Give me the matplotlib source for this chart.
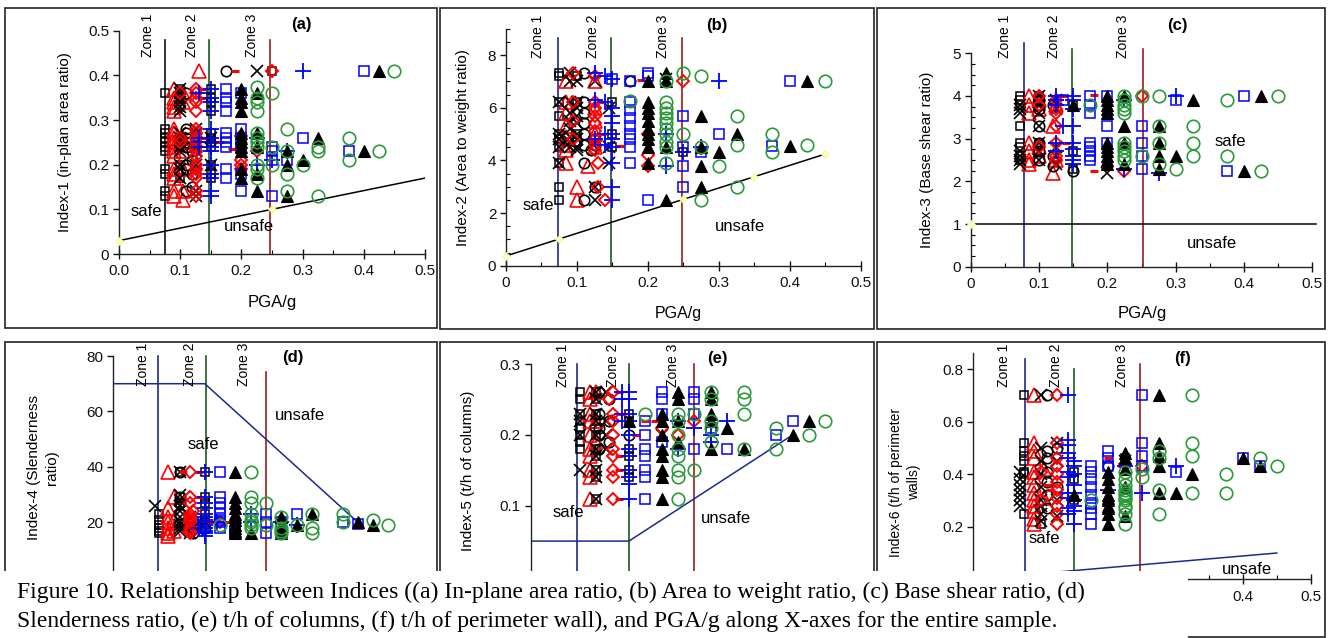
import matplotlib
matplotlib.use("Agg")
import matplotlib.pyplot as plt
from matplotlib.patches import Rectangle
from matplotlib.ticker import MultipleLocator

W, H = 1331, 638
plt.rcParams['font.family'] = ['Liberation Sans', 'DejaVu Sans']

# ================= DATA (PGA/g, [index values]) =================
# ---- (a) Index-1 in-plan area ratio ----
a_sqk = [(0.075, [0.36, 0.28, 0.27, 0.26, 0.25, 0.24, 0.23, 0.19, 0.18, 0.14, 0.13]),
         (0.10, [0.37, 0.35, 0.33, 0.26, 0.24, 0.20, 0.17]),
         (0.15, [0.37, 0.35, 0.34, 0.32, 0.27, 0.26, 0.25, 0.24, 0.20, 0.18, 0.17]),
         (0.25, [0.41])]
a_xk = [(0.10, [0.37, 0.36, 0.35, 0.34, 0.33, 0.32, 0.27, 0.26, 0.25, 0.24, 0.23, 0.20, 0.19, 0.17]),
        (0.125, [0.28, 0.27, 0.25, 0.24, 0.23, 0.20, 0.19, 0.14, 0.13]),
        (0.15, [0.26, 0.20]), (0.225, [0.41])]
a_ok = [(0.11, [0.36, 0.28, 0.27, 0.26, 0.25, 0.24, 0.20, 0.19, 0.14]),
        (0.12, [0.23, 0.21, 0.18, 0.15]), (0.175, [0.41])]
a_trr = [(0.09, [0.37, 0.35, 0.34, 0.33, 0.32, 0.28, 0.27, 0.26, 0.25, 0.24, 0.23, 0.22,
                 0.19, 0.18, 0.17, 0.14, 0.13]),
         (0.105, [0.36, 0.34, 0.26, 0.25, 0.23, 0.19, 0.14, 0.12]), (0.13, [0.41])]
a_dr = [(0.10, [0.36, 0.26, 0.25]),
        (0.125, [0.37, 0.36, 0.35, 0.34, 0.32, 0.28, 0.27, 0.26, 0.25, 0.24, 0.23, 0.22,
                 0.20, 0.19, 0.18, 0.17, 0.14, 0.13]),
        (0.20, [0.265, 0.21, 0.20, 0.19]), (0.225, [0.23]), (0.25, [0.41])]
a_dash = [(0.19, [0.41]), (0.135, [0.37, 0.35, 0.26]), (0.165, [0.25]), (0.185, [0.235])]
a_pb = [(0.13, [0.36, 0.26, 0.25, 0.24]),
        (0.15, [0.37, 0.35, 0.34, 0.32, 0.28, 0.26, 0.25, 0.24, 0.23, 0.20, 0.18, 0.17, 0.14, 0.13]),
        (0.225, [0.26, 0.20]), (0.25, [0.21]), (0.275, [0.23]), (0.30, [0.41])]
a_sqb = [(0.175, [0.37, 0.35, 0.34, 0.32, 0.27, 0.26, 0.25, 0.24, 0.19, 0.17]),
         (0.20, [0.36, 0.28, 0.26, 0.24, 0.18, 0.14]),
         (0.25, [0.24, 0.23, 0.21, 0.13]), (0.275, [0.21]), (0.30, [0.26]),
         (0.375, [0.23]), (0.40, [0.41])]
a_trk = [(0.20, [0.37, 0.35, 0.34, 0.32, 0.27, 0.26, 0.25, 0.24, 0.23, 0.19, 0.17]),
         (0.225, [0.36, 0.27, 0.24, 0.18, 0.14]),
         (0.275, [0.23, 0.20, 0.13]), (0.30, [0.21]), (0.325, [0.26]), (0.40, [0.23]), (0.425, [0.41])]
a_og = [(0.225, [0.375, 0.35, 0.34, 0.32, 0.27, 0.26, 0.25, 0.24, 0.20, 0.19, 0.17]),
        (0.25, [0.36, 0.24, 0.20]), (0.275, [0.28, 0.23, 0.18, 0.14]), (0.30, [0.20]),
        (0.325, [0.24, 0.23, 0.13]), (0.375, [0.26, 0.21]), (0.425, [0.23]), (0.45, [0.41])]
a_limit_x = [0.0, 0.25, 0.5]
a_limit_y = [0.03, 0.10, 0.17]
a_dots = [(0.0, [0.03]), (0.25, [0.10])]

# ---- (b) Index-2 area to weight ratio ----
b_sqk = [(0.075, [7.3, 7.2, 6.2, 5.7, 5.0, 4.8, 4.5, 3.9, 3.0, 2.5]),
         (0.10, [7.2, 6.2, 5.0, 4.7]), (0.15, [6.2, 5.0, 4.5]), (0.25, [4.3])]
b_xk = [(0.075, [6.2, 5.0, 4.8, 4.5, 3.9]),
        (0.09, [7.3, 7.0, 6.2, 5.8, 5.5, 5.2, 4.9, 4.7, 4.5]),
        (0.10, [7.0, 6.2, 6.0, 5.7, 5.4, 5.0, 4.8, 4.5, 4.4]),
        (0.125, [7.0, 4.7, 3.0, 2.5]), (0.145, [6.0, 4.5, 3.9]), (0.225, [7.1])]
b_ok = [(0.11, [7.3, 6.2, 5.8, 5.4, 5.0, 4.6, 3.9, 2.5]),
        (0.12, [4.4]), (0.125, [4.6, 3.0]), (0.175, [7.0])]
b_trr = [(0.085, [7.0, 6.2, 5.8, 5.3, 4.9, 4.6, 4.4, 3.9]),
         (0.10, [3.0, 2.5]), (0.115, [3.8]),
         (0.125, [7.0, 6.0, 5.5, 5.0, 4.5])]
b_dr = [(0.095, [7.3, 6.2, 5.5, 4.8]),
        (0.125, [7.2, 6.2, 6.0, 5.7, 5.4, 5.1, 4.8, 4.6, 4.4]),
        (0.13, [3.9, 3.0]), (0.14, [2.5]), (0.20, [5.0, 4.2, 3.8]), (0.25, [7.0])]
b_dash = [(0.19, [7.05]), (0.16, [4.55]), (0.135, [6.2, 5.0])]
b_pb = [(0.125, [7.3, 6.3, 4.8]), (0.14, [7.2, 6.2, 5.0, 4.6]),
        (0.15, [7.1, 6.0, 5.7, 5.4, 5.0, 4.8, 4.5, 3.9, 3.0, 2.5]),
        (0.225, [5.0, 3.8]), (0.25, [4.3]), (0.275, [4.5]), (0.30, [7.0])]
b_sqb = [(0.15, [7.1]), (0.175, [7.0, 6.2, 5.9, 5.6, 5.3, 5.0, 4.8, 4.5, 3.9]),
         (0.20, [7.3, 7.2, 2.5]), (0.25, [5.7, 4.5, 3.8, 3.0]), (0.275, [4.3]),
         (0.30, [5.0]), (0.375, [4.55]), (0.40, [7.0])]
b_trk = [(0.20, [7.0, 6.2, 6.0, 5.8, 5.5, 5.2, 5.0, 4.8, 4.5, 3.9]),
         (0.225, [7.3, 7.0, 4.5, 2.5]), (0.275, [5.7, 4.5, 3.8, 3.0]), (0.30, [4.3]),
         (0.325, [5.0]), (0.40, [4.55]), (0.425, [7.0])]
b_og = [(0.175, [6.25]), (0.225, [7.0, 6.2, 6.0, 5.8, 5.6, 5.4, 5.2, 5.0, 4.7, 4.5, 3.9]),
        (0.25, [7.3, 5.0]), (0.275, [7.2, 4.5, 2.5]), (0.30, [3.8]),
        (0.325, [5.7, 4.6, 3.0]), (0.375, [5.0, 4.3]), (0.425, [4.6]), (0.45, [7.0])]
b_limit_x = [0.0, 0.45]
b_limit_y = [0.37, 4.24]
b_dots = [(0.0, [0.37]), (0.075, [1.0]), (0.25, [2.52]), (0.35, [3.38]), (0.45, [4.24])]

# ---- (c) Index-3 base shear ratio ----
c_sqk = [(0.072, [4.0, 3.9, 3.8, 3.3, 2.9, 2.8, 2.6, 2.5]),
         (0.10, [4.0, 2.9]), (0.15, [3.8, 2.7, 2.3])]
c_xk = [(0.072, [3.8, 3.7, 3.6, 2.7, 2.6, 2.5, 2.4]),
        (0.10, [4.0, 3.8, 3.6, 3.3, 2.9, 2.7, 2.5]),
        (0.125, [3.9, 3.7, 2.8, 2.6, 2.4]), (0.20, [2.2])]
c_ok = [(0.10, [3.9, 3.7, 3.3, 2.9, 2.7, 2.5]), (0.12, [3.8, 2.6, 2.35]), (0.15, [2.25])]
c_trr = [(0.085, [4.0, 3.8, 3.6, 2.9, 2.7, 2.5, 2.4]), (0.10, [3.9, 3.7, 2.8, 2.6]),
         (0.12, [3.3, 2.2]), (0.125, [3.8, 2.5])]
c_dr = [(0.10, [4.0, 3.8, 2.8]), (0.125, [3.9, 3.7, 3.6, 3.3, 2.9, 2.6, 2.5]),
        (0.225, [2.25]), (0.25, [4.0])]
c_dash = [(0.135, [4.0]), (0.18, [4.02, 2.25]), (0.14, [2.9])]
c_pb = [(0.125, [4.0, 3.9, 3.8, 2.9, 2.7]), (0.135, [3.3]),
        (0.15, [4.0, 3.9, 3.7, 3.3, 2.9, 2.75, 2.6, 2.5, 2.4]),
        (0.225, [3.9, 2.3]), (0.275, [2.2]), (0.30, [4.0])]
c_sqb = [(0.135, [3.9]), (0.175, [4.0, 3.8, 3.6, 2.9, 2.8, 2.7, 2.6, 2.5]),
         (0.20, [4.0, 3.3, 2.9]), (0.25, [3.3, 2.9, 2.6, 2.3]), (0.30, [3.9]),
         (0.375, [2.25]), (0.40, [4.0])]
c_trk = [(0.15, [3.8]), (0.20, [4.0, 3.9, 3.8, 3.7, 3.6, 2.9, 2.8, 2.7, 2.6, 2.5, 2.4]),
         (0.225, [4.0, 3.3, 2.9, 2.4]), (0.275, [3.3, 2.9, 2.6, 2.3]), (0.30, [2.6]),
         (0.325, [3.9]), (0.40, [2.25]), (0.425, [4.0])]
c_og = [(0.175, [3.8]), (0.225, [4.0, 3.9, 3.8, 3.7, 3.6, 2.9, 2.8, 2.7, 2.6, 2.5]),
        (0.25, [4.0, 2.6]), (0.275, [4.0, 3.3, 2.9, 2.4]), (0.30, [2.3]),
        (0.325, [3.3, 2.9, 2.6]), (0.375, [3.9, 2.6]), (0.425, [2.25]), (0.45, [4.0])]
c_limit_x = [0.0, 0.505]
c_limit_y = [1.0, 1.0]
c_dots = [(0.0, [1.0])]

# ---- (d) Index-4 slenderness ratio ----
d_sqk = [(0.075, [23, 21, 19, 18, 17, 16]), (0.11, [38, 29, 27]),
         (0.15, [38, 29, 27, 23, 21, 20, 19])]
d_xk = [(0.068, [26]), (0.11, [38, 30, 28, 26, 24, 22, 20, 19, 18, 17]),
        (0.125, [22, 19, 16]), (0.14, [20, 17])]
d_ok = [(0.11, [38, 29, 27, 23]), (0.13, [21, 18, 16]), (0.15, [18])]
d_trr = [(0.09, [38, 25, 22, 20, 18, 16, 15]), (0.10, [29, 21, 17]), (0.125, [20])]
d_dr = [(0.125, [38, 29, 27, 23, 22, 21, 20, 18, 17, 16]), (0.13, [24]), (0.175, [20])]
d_dash = [(0.115, [38]), (0.14, [38, 29]), (0.16, [20]), (0.17, [21]), (0.185, [20])]
d_pb = [(0.14, [18]), (0.15, [38, 29, 27, 25, 23, 22, 21, 20, 19, 18, 17, 16, 15]),
        (0.17, [20]), (0.225, [23, 20]), (0.275, [20]), (0.30, [19])]
d_sqb = [(0.175, [38, 29, 27, 25, 23, 21, 20, 18]), (0.20, [17, 16]),
         (0.25, [23, 20, 16]), (0.275, [20]), (0.30, [23]), (0.375, [20]), (0.40, [19.5])]
d_trk = [(0.20, [38, 29, 27, 25, 23, 22, 21, 19, 18, 17, 16]), (0.225, [16]),
         (0.275, [22, 19, 17, 16]), (0.30, [19]), (0.325, [23]), (0.40, [20]), (0.425, [19])]
d_og = [(0.175, [19]), (0.225, [38, 29, 27, 23, 21, 20, 19, 18]), (0.25, [27, 19]),
        (0.275, [22, 18, 17, 16]), (0.30, [19]), (0.325, [23, 18, 16]),
        (0.375, [23, 20]), (0.425, [21]), (0.45, [19])]
d_limit_x = [0.0, 0.15, 0.40]
d_limit_y = [70, 70, 20]

# ---- (e) Index-5 t/h of columns ----
e_sqk = [(0.075, [0.26, 0.25, 0.23, 0.22, 0.21, 0.20, 0.19, 0.18]),
         (0.10, [0.26, 0.25, 0.23, 0.22, 0.20, 0.18, 0.17, 0.15, 0.14, 0.11]),
         (0.15, [0.23, 0.22, 0.18, 0.17, 0.15, 0.14])]
e_xk = [(0.075, [0.23, 0.22, 0.20, 0.15]),
        (0.10, [0.26, 0.25, 0.23, 0.22, 0.20, 0.18, 0.17, 0.15, 0.14, 0.11]),
        (0.115, [0.26, 0.22, 0.20, 0.18]), (0.20, [0.20])]
e_ok = [(0.105, [0.26, 0.23, 0.21, 0.20, 0.18]), (0.12, [0.25, 0.22, 0.19]), (0.15, [0.20])]
e_trr = [(0.09, [0.26, 0.25, 0.23, 0.22, 0.20, 0.18, 0.17, 0.15, 0.14, 0.11]),
         (0.10, [0.26, 0.22, 0.19])]
e_dr = [(0.12, [0.25]), (0.125, [0.26, 0.23, 0.22, 0.20, 0.18, 0.17, 0.15, 0.14, 0.11]),
        (0.20, [0.21]), (0.225, [0.20]), (0.25, [0.22])]
e_dash = [(0.135, [0.26, 0.17, 0.15, 0.11]), (0.14, [0.23]), (0.16, [0.20]),
          (0.175, [0.22]), (0.19, [0.22])]
e_pb = [(0.14, [0.26, 0.25, 0.23, 0.22]),
        (0.15, [0.26, 0.25, 0.23, 0.22, 0.20, 0.18, 0.17, 0.15, 0.14, 0.13, 0.11]),
        (0.225, [0.22, 0.18]), (0.25, [0.21]), (0.275, [0.20, 0.19]), (0.30, [0.22])]
e_sqb = [(0.175, [0.22, 0.20, 0.18, 0.17, 0.15, 0.14, 0.11]),
         (0.20, [0.26, 0.25, 0.23, 0.19]), (0.25, [0.26, 0.25, 0.23, 0.18]),
         (0.275, [0.21]), (0.30, [0.18]), (0.375, [0.20]), (0.40, [0.22])]
e_trk = [(0.15, [0.22]), (0.20, [0.23, 0.22, 0.20, 0.18, 0.17, 0.15, 0.14, 0.11]),
         (0.225, [0.26, 0.25, 0.22, 0.19]), (0.275, [0.26, 0.25, 0.23, 0.22, 0.18]),
         (0.30, [0.21]), (0.325, [0.18]), (0.40, [0.20]), (0.425, [0.22])]
e_og = [(0.175, [0.23]), (0.225, [0.23, 0.22, 0.20, 0.18, 0.17, 0.15, 0.14, 0.11]),
        (0.25, [0.23, 0.15]), (0.275, [0.26, 0.25, 0.22, 0.21, 0.19]),
        (0.325, [0.26, 0.25, 0.23, 0.18]), (0.375, [0.21, 0.18]), (0.425, [0.20]), (0.45, [0.22])]
e_limit_x = [0.0, 0.15, 0.40]
e_limit_y = [0.05, 0.05, 0.20]

# ---- (f) Index-6 t/h of perimeter walls ----
f_sqk = [(0.075, [0.70, 0.52, 0.49, 0.47, 0.45, 0.41, 0.40, 0.25]),
         (0.10, [0.21]), (0.15, [0.41, 0.38, 0.30]), (0.225, [0.46])]
f_xk = [(0.07, [0.41, 0.38, 0.36, 0.34, 0.32, 0.30, 0.28]),
        (0.10, [0.70, 0.50, 0.45, 0.40, 0.35, 0.30, 0.28, 0.25, 0.22]),
        (0.125, [0.52, 0.45, 0.30, 0.24]), (0.225, [0.45])]
f_ok = [(0.11, [0.70, 0.49, 0.46, 0.41, 0.37, 0.32, 0.27]), (0.125, [0.50, 0.35]), (0.20, [0.43])]
f_trr = [(0.09, [0.70, 0.52, 0.49, 0.46, 0.41, 0.39, 0.36, 0.33, 0.30, 0.28, 0.26, 0.23, 0.21]),
         (0.105, [0.42, 0.31])]
f_dr = [(0.10, [0.41, 0.30]),
        (0.125, [0.70, 0.52, 0.46, 0.43, 0.40, 0.37, 0.34, 0.31, 0.28, 0.25, 0.21]),
        (0.225, [0.44]), (0.25, [0.43])]
f_dash = [(0.20, [0.46]), (0.22, [0.43]), (0.11, [0.36]), (0.115, [0.34])]
f_pb = [(0.14, [0.70, 0.53, 0.51, 0.48, 0.46, 0.41, 0.39, 0.33, 0.31, 0.27, 0.25]),
        (0.15, [0.45, 0.43, 0.40, 0.36, 0.33, 0.30, 0.28, 0.26, 0.21]),
        (0.20, [0.34]), (0.225, [0.43]), (0.25, [0.33]), (0.30, [0.43])]
f_sqb = [(0.175, [0.43, 0.41, 0.38, 0.35, 0.32, 0.29, 0.27, 0.25, 0.21]),
         (0.20, [0.49, 0.46, 0.43]), (0.25, [0.70, 0.52, 0.47, 0.43]),
         (0.30, [0.41]), (0.40, [0.46]), (0.425, [0.43])]
f_trk = [(0.15, [0.32]), (0.20, [0.41, 0.38, 0.35, 0.32, 0.31, 0.30, 0.28, 0.27, 0.25, 0.21]),
         (0.225, [0.48, 0.46, 0.42, 0.35, 0.24]), (0.275, [0.70, 0.52, 0.47, 0.43, 0.33]),
         (0.30, [0.33]), (0.325, [0.40]), (0.40, [0.46]), (0.425, [0.43])]
f_og = [(0.175, [0.30]),
        (0.225, [0.41, 0.38, 0.36, 0.34, 0.33, 0.32, 0.31, 0.30, 0.28, 0.27, 0.25, 0.21]),
        (0.25, [0.42, 0.39]), (0.275, [0.49, 0.46, 0.34, 0.25]),
        (0.325, [0.70, 0.52, 0.47, 0.33]), (0.375, [0.40, 0.33]), (0.425, [0.46]), (0.45, [0.43])]
f_limit_x = [0.0, 0.45]
f_limit_y = [0.0, 0.10]

# zone boundaries (PGA/g) per panel
zones_a = [0.075, 0.147, 0.247]
zones_b = [0.0737, 0.148, 0.2485]
zones_c = [0.078, 0.149, 0.2517]
zones_d = [0.073, 0.152, 0.25]
zones_e = [0.071, 0.15, 0.25]
zones_f = [0.077, 0.149, 0.247]
zone_names = ["Zone 1", "Zone 2", "Zone 3"]

x_ticks = [0.0, 0.1, 0.2, 0.3, 0.4, 0.5]
x_labels_a = ["0.0", "0.1", "0.2", "0.3", "0.4", "0.5"]
x_labels = ["0", "0.1", "0.2", "0.3", "0.4", "0.5"]
x_labels_hidden = ["", "", "", "", "", ""]
x_labels_f = ["", "", "", "", "0.4", "0.5"]
y_ticks_a = [0, 0.1, 0.2, 0.3, 0.4, 0.5]
y_labels_a = ["0", "0.1", "0.2", "0.3", "0.4", "0.5"]
y_ticks_b = [0, 2, 4, 6, 8]
y_ticks_c = [0, 1, 2, 3, 4, 5]
y_ticks_d = [20, 40, 60, 80]
y_ticks_e = [0.1, 0.2, 0.3]
y_ticks_f = [0.2, 0.4, 0.6, 0.8]

caption1 = ("Figure 10. Relationship between Indices ((a) In-plane area ratio, "
            "(b) Area to weight ratio, (c) Base shear ratio, (d)")
caption2 = ("Slenderness ratio, (e) t/h of columns, (f) t/h of perimeter wall), "
            "and PGA/g along X-axes for the entire sample.")

# ================= STYLES =================
GREEN = '#2a9a3a'
STY = {
    'sqk': dict(marker='s', ms=6.2, mfc='none', mec='black', mew=1.1),
    'trr': dict(marker='^', ms=10, mfc='none', mec='red', mew=1.2),
    'xk': dict(marker='x', ms=8, mec='black', mew=1.2),
    'ok': dict(marker='o', ms=7.5, mfc='none', mec='black', mew=1.2),
    'dr': dict(marker='D', ms=6.5, mfc='none', mec='red', mew=1.4),
    'dash': dict(marker='_', ms=6, mec='red', mew=2.2),
    'pb': dict(marker='+', ms=12, mec='blue', mew=1.3),
    'sqb': dict(marker='s', ms=6.5, mfc='none', mec='blue', mew=1.1),
    'trk': dict(marker='^', ms=8, mfc='black', mec='black', mew=0.8),
    'og': dict(marker='o', ms=9, mfc='none', mec=GREEN, mew=1.2),
    'dot': dict(marker='D', ms=4.5, mfc='#ffffb0', mec='#f5f0a0', mew=0.5),
}
ZC1_BLACK = '#111111'
ZC1 = '#1c2a8c'
ZC2 = '#1e5a1e'
ZC3 = '#9b1c1c'

fig = plt.figure(figsize=(W / 100, H / 100), dpi=100)


def add_ax(l, r, b, t):
    return fig.add_axes([l / W, 1 - b / H, (r - l) / W, (b - t) / H])


def expand(groups):
    xs, ys = [], []
    for x, vals in groups:
        for v in vals:
            xs.append(x)
            ys.append(v)
    return xs, ys


def draw_series(ax, pairs):
    for groups, key in pairs:
        xs, ys = expand(groups)
        ax.plot(xs, ys, linestyle='none', zorder=3, clip_on=False, **STY[key])


def base(ax, ylim, yticks, ylabels, xlabels, yminor=None, xminor=0.05):
    ax.set_xlim(0, 0.5)
    ax.set_ylim(*ylim)
    for s in ('top', 'right'):
        ax.spines[s].set_visible(False)
    for s in ('left', 'bottom'):
        ax.spines[s].set_color('#222222')
        ax.spines[s].set_linewidth(1.0)
    ax.set_xticks(x_ticks)
    ax.set_xticklabels(xlabels)
    ax.set_yticks(yticks)
    ax.set_yticklabels(ylabels)
    ax.tick_params(axis='x', which='major', direction='inout', length=7, width=1,
                   labelsize=11, pad=4, colors='#111111')
    ax.tick_params(axis='y', which='major', direction='out', length=4, width=1,
                   labelsize=11, pad=3, colors='#111111')
    if xminor:
        ax.xaxis.set_minor_locator(MultipleLocator(xminor))
        ax.tick_params(axis='x', which='minor', direction='in', length=3, width=0.8)
    if yminor:
        ax.yaxis.set_minor_locator(MultipleLocator(yminor))
        ax.tick_params(axis='y', which='minor', direction='in', length=3, width=0.8)
    ax.patch.set_alpha(0)


def zone_lines(ax, xs, tops, colors, label_x, label_y):
    for x, top, c in zip(xs, tops, colors):
        ax.plot([x, x], [0, top], color=c, lw=1.2, zorder=2, clip_on=False)
    for lx, name in zip(label_x, zone_names):
        ax.text(lx, label_y, name, rotation=90, ha='center', va='bottom',
                fontsize=10, clip_on=False)


def notes(ax, safe_xy, unsafe_xy, tag, tag_xy):
    ax.text(*safe_xy, "safe", ha='center', va='center', fontsize=12)
    ax.text(*unsafe_xy, "unsafe", ha='center', va='center', fontsize=12)
    ax.text(*tag_xy, tag, ha='center', va='center', fontsize=12, fontweight='bold',
            clip_on=False)


def ptext(x, y, s, **kw):
    fig.text(x / W, 1 - y / H, s, **kw)


ORDER = ['dot', 'sqk', 'trr', 'xk', 'ok', 'dr', 'dash', 'pb', 'sqb', 'trk', 'og']

# ---------------- (a) ----------------
ax = add_ax(119, 425, 254, 30.7)
base(ax, (0, 0.5), y_ticks_a, y_labels_a, x_labels_a)
zone_lines(ax, zones_a, [0.48] * 3, [ZC1_BLACK, ZC2, ZC3], [0.047, 0.12, 0.218], 0.44)
ax.plot(a_limit_x, a_limit_y, color='black', lw=1.1, zorder=2)
draw_series(ax, [(a_dots, 'dot'), (a_sqk, 'sqk'), (a_trr, 'trr'), (a_xk, 'xk'), (a_ok, 'ok'),
                 (a_dr, 'dr'), (a_dash, 'dash'), (a_pb, 'pb'), (a_sqb, 'sqb'),
                 (a_trk, 'trk'), (a_og, 'og')])
notes(ax, (0.045, 0.095), (0.212, 0.061), "(a)", (0.298, 0.513))
ptext(65, 142, "Index-1 (in-plan area ratio)", rotation=90, ha='center', va='center', fontsize=11)
ptext(272, 303, "PGA/g", ha='center', va='center', fontsize=12)

# ---------------- (b) ----------------
ax = add_ax(506, 860.7, 265.7, 28.7)
base(ax, (0, 9), y_ticks_b, [str(v) for v in y_ticks_b], x_labels, yminor=0.5)
zone_lines(ax, zones_b, [8.64] * 3, [ZC1, ZC2, ZC3], [0.0447, 0.123, 0.222], 7.88)
ax.plot(b_limit_x, b_limit_y, color='black', lw=1.1, zorder=2)
draw_series(ax, [(b_dots, 'dot'), (b_sqk, 'sqk'), (b_trr, 'trr'), (b_xk, 'xk'), (b_ok, 'ok'),
                 (b_dr, 'dr'), (b_dash, 'dash'), (b_pb, 'pb'), (b_sqb, 'sqb'),
                 (b_trk, 'trk'), (b_og, 'og')])
notes(ax, (0.046, 2.3), (0.33, 1.48), "(b)", (0.297, 9.14))
ptext(463, 148, "Index-2 (Area to weight ratio)", rotation=90, ha='center', va='center', fontsize=11)
ptext(678, 313, "PGA/g", ha='center', va='center', fontsize=11.5)

# ---------------- (c) ----------------
ax = add_ax(970.7, 1312.3, 266.7, 53.3)
base(ax, (0, 5), y_ticks_c, [str(v) for v in y_ticks_c], x_labels, yminor=0.25)
zone_lines(ax, zones_c, [5.25, 5.09, 5.09], [ZC1, ZC2, ZC3], [0.05, 0.122, 0.223], 4.88)
ax.plot(c_limit_x, c_limit_y, color='black', lw=1.1, zorder=2, clip_on=False)
draw_series(ax, [(c_dots, 'dot'), (c_sqk, 'sqk'), (c_trr, 'trr'), (c_xk, 'xk'), (c_ok, 'ok'),
                 (c_dr, 'dr'), (c_dash, 'dash'), (c_pb, 'pb'), (c_sqb, 'sqb'),
                 (c_trk, 'trk'), (c_og, 'og')])
notes(ax, (0.38, 2.93), (0.353, 0.55), "(c)", (0.303, 5.66))
ptext(927, 160, "Index-3 (Base shear ratio)", rotation=90, ha='center', va='center', fontsize=11)
ptext(1142, 313, "PGA/g", ha='center', va='center', fontsize=12)

# ---------------- (d) ----------------
ax = add_ax(113, 419, 577.7, 356)
base(ax, (0, 80), y_ticks_d, [str(v) for v in y_ticks_d], x_labels_hidden, xminor=None)
zone_lines(ax, zones_d, [80, 80, 74.4], [ZC1, ZC2, ZC3], [0.0497, 0.126, 0.2146], 69)
ax.plot(d_limit_x, d_limit_y, color=ZC1, lw=1.1, zorder=2)
draw_series(ax, [(d_sqk, 'sqk'), (d_trr, 'trr'), (d_xk, 'xk'), (d_ok, 'ok'),
                 (d_dr, 'dr'), (d_dash, 'dash'), (d_pb, 'pb'), (d_sqb, 'sqb'),
                 (d_trk, 'trk'), (d_og, 'og')])
notes(ax, (0.147, 47.9), (0.305, 58.4), "(d)", (0.293, 79.5))
ptext(43, 468, "Index-4 (Slenderness\nratio)", rotation=90, ha='center', va='center',
      fontsize=11, multialignment='center', linespacing=1.45)

# ---------------- (e) ----------------
ax = add_ax(530.7, 858.2, 576.5, 364)
base(ax, (0, 0.3), y_ticks_e, ["0.1", "0.2", "0.3"], x_labels_hidden, xminor=None)
zone_lines(ax, zones_e, [0.3] * 3, [ZC1, ZC2, ZC3], [0.049, 0.126, 0.217], 0.268)
ax.plot(e_limit_x, e_limit_y, color=ZC1, lw=1.1, zorder=2)
draw_series(ax, [(e_sqk, 'sqk'), (e_trr, 'trr'), (e_xk, 'xk'), (e_ok, 'ok'),
                 (e_dr, 'dr'), (e_dash, 'dash'), (e_pb, 'pb'), (e_sqb, 'sqb'),
                 (e_trk, 'trk'), (e_og, 'og')])
notes(ax, (0.058, 0.0906), (0.298, 0.082), "(e)", (0.285, 0.308))
ptext(468, 471, "Index-5 (t/h of columns)", rotation=90, ha='center', va='center', fontsize=11)

# ---------------- (f) ----------------
ax = add_ax(973, 1310.5, 579.3, 353.3)
base(ax, (0, 0.86), y_ticks_f, ["0.2", "0.4", "0.6", "0.8"], x_labels_f)
zone_lines(ax, zones_f, [0.84, 0.80, 0.82], [ZC1, ZC2, ZC3], [0.046, 0.123, 0.221], 0.733)
ax.plot(f_limit_x, f_limit_y, color=ZC1, lw=1.1, zorder=2)
draw_series(ax, [(f_sqk, 'sqk'), (f_trr, 'trr'), (f_xk, 'xk'), (f_ok, 'ok'),
                 (f_dr, 'dr'), (f_dash, 'dash'), (f_pb, 'pb'), (f_sqb, 'sqb'),
                 (f_trk, 'trk'), (f_og, 'og')])
notes(ax, (0.106, 0.156), (0.406, 0.038), "(f)", (0.311, 0.84))
ptext(905, 482, "Index-6 (t/h of perimeter\nwalls)", rotation=90, ha='center', va='center',
      fontsize=10, multialignment='center', linespacing=1.45)

# ---------------- panel frames ----------------
frames = [(5, 8, 437, 328), (440, 8, 874, 329), (877, 8, 1325, 329),
          (5, 342, 437, 637), (440, 342, 874, 637), (877, 342, 1325, 637)]
for x0, y0, x1, y1 in frames:
    fig.add_artist(Rectangle((x0 / W, 1 - y1 / H), (x1 - x0) / W, (y1 - y0) / H,
                             transform=fig.transFigure, fill=False,
                             edgecolor='#222222', lw=1.2, zorder=5))

# caption area (white) + caption text
fig.add_artist(Rectangle((0, 0), 1188 / W, (H - 571) / H, transform=fig.transFigure,
                         facecolor='white', edgecolor='none', zorder=10))
for yy, line in ((592, caption1), (621, caption2)):
    t = fig.text(17 / W, 1 - yy / H, line, ha='left', va='center', fontsize=17,
                 family=['Liberation Serif', 'DejaVu Serif'])
    t.set_zorder(11)

fig.savefig("out.png", dpi=100)
